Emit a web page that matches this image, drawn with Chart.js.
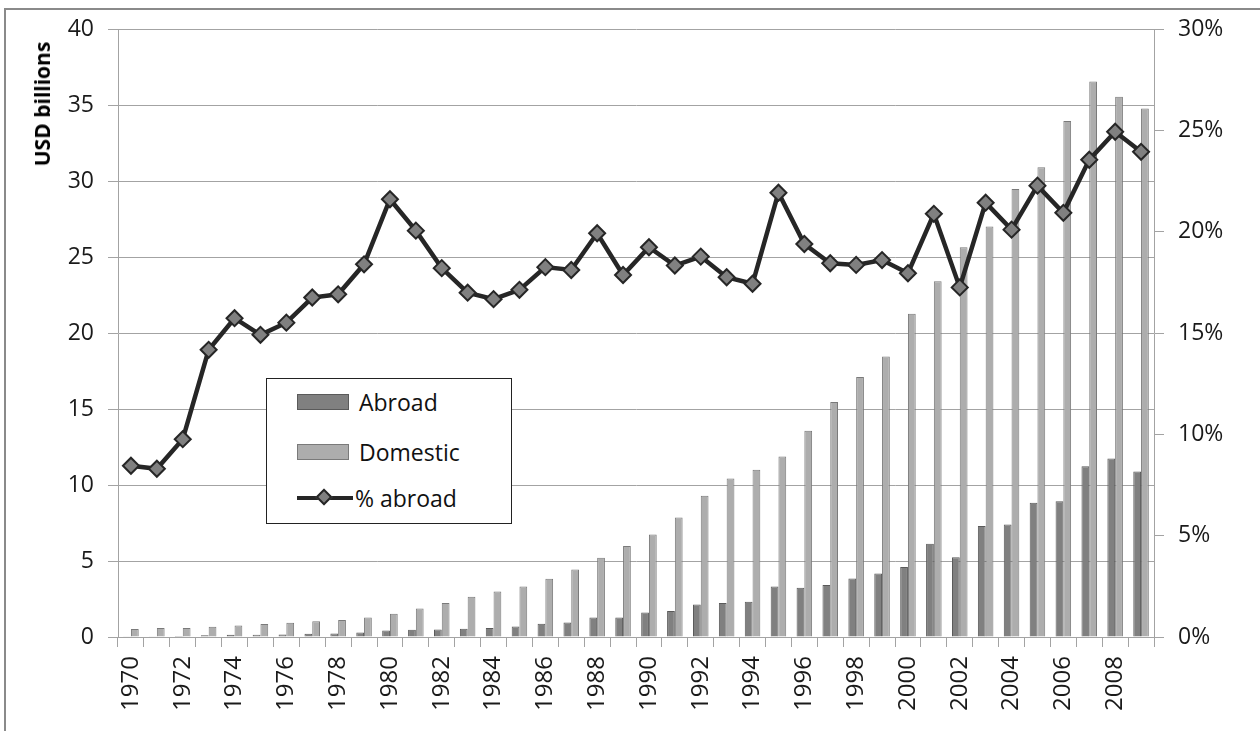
<!DOCTYPE html>
<html>
<head>
<meta charset="utf-8">
<script src="https://cdn.jsdelivr.net/npm/chart.js@4.4.1/dist/chart.umd.min.js"></script>
<style>
  body { margin: 0; background: #fff; overflow: hidden; }
  #wrap { position: relative; width: 1260px; height: 731px; overflow: hidden; }
  #frame { position: absolute; left: 4px; top: 8px; width: 1400px; height: 900px; border: 2px solid #8a8a8a; box-sizing: border-box; }
  canvas { position: absolute; left: 0; top: 0; }
  #ytitle {
    position: absolute; left: 42px; top: 104px; transform: translate(-50%, -50%) rotate(-90deg);
    font-family: "Open Sans", sans-serif; font-weight: bold; font-size: 21px; color: #000; white-space: nowrap;
  }
  #legend {
    position: absolute; left: 266px; top: 378px; width: 246px; height: 146px;
    box-sizing: border-box; border: 1.5px solid #222; background: #fff;
    font-family: "Open Sans", sans-serif; font-size: 23px; color: #111;
  }
  .item { position: absolute; left: 30px; height: 30px; display: flex; align-items: center; }
  .sw { width: 52px; height: 16px; box-sizing: border-box; margin-right: 10px; }
  .ln { position: relative; width: 56px; height: 16px; margin-right: 2px; }
  .ln .bar { position: absolute; left: 0; right: 0; top: 6px; height: 4px; background: #262626; }
  .ln .dia { position: absolute; left: 21px; top: 1px; width: 12px; height: 12px; transform: rotate(45deg);
             background: #808080; border: 2px solid #262626; box-sizing: border-box; }
</style>
</head>
<body>
<div id="wrap">
  <div id="frame"></div>
  <canvas id="chart" width="1260" height="731"></canvas>
  <div id="ytitle">USD billions</div>
  <div id="legend"></div>
</div>
<script>
const years = ["1970","1971","1972","1973","1974","1975","1976","1977","1978","1979",
  "1980","1981","1982","1983","1984","1985","1986","1987","1988","1989",
  "1990","1991","1992","1993","1994","1995","1996","1997","1998","1999",
  "2000","2001","2002","2003","2004","2005","2006","2007","2008","2009"];

// USD billions
const abroad = [0.05, 0.05, 0.07, 0.11, 0.14, 0.15, 0.17, 0.21, 0.23, 0.29,
  0.42, 0.47, 0.50, 0.54, 0.60, 0.69, 0.87, 0.96, 1.29, 1.29,
  1.62, 1.71, 2.14, 2.23, 2.32, 3.33, 3.24, 3.42, 3.85, 4.18,
  4.60, 6.13, 5.25, 7.30, 7.40, 8.83, 8.93, 11.23, 11.75, 10.89];

const domestic = [0.53, 0.60, 0.60, 0.68, 0.76, 0.85, 0.94, 1.03, 1.12, 1.29,
  1.53, 1.88, 2.23, 2.65, 3.00, 3.33, 3.83, 4.44, 5.21, 5.98,
  6.74, 7.86, 9.30, 10.42, 11.01, 11.87, 13.57, 15.46, 17.10, 18.46,
  21.26, 23.40, 25.64, 27.00, 29.47, 30.91, 33.95, 36.55, 35.54, 34.77];

// percent abroad
const pctAbroad = [8.45, 8.30, 9.76, 14.17, 15.73, 14.91, 15.51, 16.75, 16.91, 18.39,
  21.60, 20.05, 18.20, 16.99, 16.67, 17.13, 18.25, 18.11, 19.92, 17.86,
  19.23, 18.33, 18.77, 17.75, 17.43, 21.92, 19.39, 18.44, 18.36, 18.60,
  17.95, 20.88, 17.25, 21.43, 20.10, 22.27, 20.93, 23.55, 24.93, 23.94];

const leftTicks = [0, 5, 10, 15, 20, 25, 30, 35, 40];
const rightTicks = [0, 5, 10, 15, 20, 25, 30];

const gridGrey = "#a3a3a3";
const tickFont = { family: "Open Sans", size: 23 };

const chart = new Chart(document.getElementById("chart"), {
  type: "bar",
  data: {
    labels: years,
    datasets: [
      {
        type: "line",
        label: "% abroad",
        data: pctAbroad,
        yAxisID: "y1",
        order: 0,
        borderColor: "#262626",
        borderWidth: 4.5,
        tension: 0,
        pointStyle: "rectRot",
        pointRadius: 8,
        pointBackgroundColor: "#808080",
        pointBorderColor: "#262626",
        pointBorderWidth: 2
      },
      {
        label: "Abroad",
        data: abroad,
        yAxisID: "y",
        order: 1,
        backgroundColor: "#808080",
        borderColor: "#5a5a5a",
        borderWidth: 1,
        barPercentage: 1,
        categoryPercentage: 0.6
      },
      {
        label: "Domestic",
        data: domestic,
        yAxisID: "y",
        order: 1,
        backgroundColor: "#adadad",
        borderColor: "#7a7a7a",
        borderWidth: 1,
        barPercentage: 1,
        categoryPercentage: 0.6
      }
    ]
  },
  options: {
    responsive: false,
    devicePixelRatio: 1,
    animation: false,
    layout: { padding: { top: 29 } },
    plugins: { legend: { display: false }, tooltip: { enabled: false } },
    scales: {
      x: {
        offset: true,
        grid: { offset: true, drawOnChartArea: false, tickLength: 10, color: gridGrey },
        border: { color: gridGrey },
        ticks: {
          autoSkip: false, minRotation: 90, maxRotation: 90, padding: 9,
          font: { family: "Open Sans", size: 24 }, color: "#1a1a1a",
          callback: (v, i) => (i % 2 === 0 ? years[i] : "")
        },
        afterFit: s => { s.height = 94; }
      },
      y: {
        position: "left",
        min: 0, max: 40,
        afterBuildTicks: s => { s.ticks = leftTicks.map(v => ({ value: v })); },
        grid: { color: gridGrey, tickLength: 10 },
        border: { color: gridGrey },
        ticks: { font: tickFont, color: "#1a1a1a", padding: 14 },
        afterFit: s => { s.width = 118; }
      },
      y1: {
        position: "right",
        min: 0, max: 30,
        afterBuildTicks: s => { s.ticks = rightTicks.map(v => ({ value: v })); },
        grid: { drawOnChartArea: false, color: gridGrey, tickLength: 10 },
        border: { color: gridGrey },
        ticks: { font: tickFont, color: "#1a1a1a", padding: 14, callback: v => v + "%" },
        afterFit: s => { s.width = 106; }
      }
    }
  }
});

// legend box built from the datasets
const legend = document.getElementById("legend");
const rows = [
  { ds: chart.data.datasets[1], top: 8 },
  { ds: chart.data.datasets[2], top: 58 },
  { ds: chart.data.datasets[0], top: 104 }
];
rows.forEach(r => {
  const item = document.createElement("div");
  item.className = "item";
  item.style.top = r.top + "px";
  if (r.ds.type === "line") {
    item.innerHTML = '<div class="ln"><div class="bar"></div><div class="dia"></div></div>';
  } else {
    item.innerHTML = '<div class="sw" style="background:' + r.ds.backgroundColor +
      ';border:1.5px solid ' + r.ds.borderColor + '"></div>';
  }
  const t = document.createElement("span");
  t.textContent = r.ds.label;
  item.appendChild(t);
  legend.appendChild(item);
});
</script>
</body>
</html>
